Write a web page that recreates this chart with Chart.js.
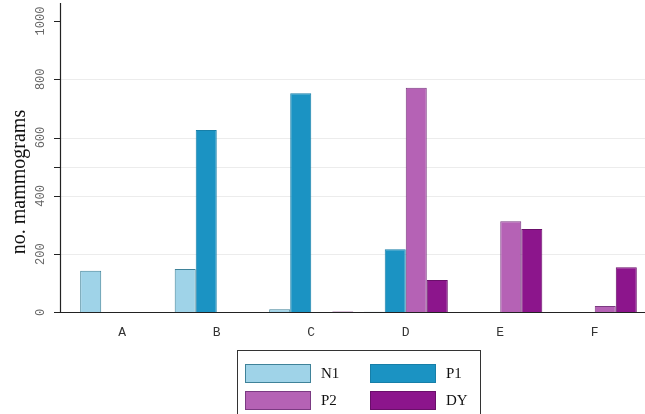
<!DOCTYPE html>
<html>
<head>
<meta charset="utf-8">
<script src="https://cdn.jsdelivr.net/npm/chart.js@4"></script>
<style>
  body { margin: 0; background: #fff; }
  canvas { display: block; }
</style>
</head>
<body>
<canvas id="chart" width="645" height="414"></canvas>
<script>
// categories and series
var categories = ['A', 'B', 'C', 'D', 'E', 'F'];
var seriesNames = ['N1', 'P1', 'P2', 'DY'];
var n1Values = [143, 149, 11, 2, 0, 0];
var p1Values = [0, 626, 752, 217, 0, 0];
var p2Values = [0, 0, 0, 771, 313, 22];
var dyValues = [0, 0, 3, 111, 286, 155];
var yTickLabels = [0, 200, 400, 600, 800, 1000];
var yTickMarks = [0, 200, 400, 500, 600, 800, 1000];
var yGridLines = [200, 400, 500, 600, 800];
var yTitle = 'no. mammograms';

var fills = ['#9fd3e8', '#1b93c3', '#b562b5', '#8c158c'];
var borders = ['#3f8299', '#177fa8', '#7b3a82', '#6a0f6a'];

// y axis, grid and x baseline drawn by hand (axis sits left of the category area)
var axisPlugin = {
  id: 'axisPlugin',
  beforeDatasetsDraw: function(chart) {
    var ctx = chart.ctx;
    var y = chart.scales.y;
    ctx.save();
    ctx.strokeStyle = '#ececec';
    ctx.lineWidth = 1;
    yGridLines.forEach(function(v) {
      var py = Math.round(y.getPixelForValue(v)) + 0.5;
      ctx.beginPath();
      ctx.moveTo(61, py);
      ctx.lineTo(645, py);
      ctx.stroke();
    });
    ctx.restore();
  },
  afterDatasetsDraw: function(chart) {
    var ctx = chart.ctx;
    var y = chart.scales.y;
    var base = Math.round(y.getPixelForValue(0)) + 0.5;
    ctx.save();
    ctx.strokeStyle = '#222';
    ctx.lineWidth = 1.2;
    // y axis line
    ctx.beginPath();
    ctx.moveTo(60.5, 3);
    ctx.lineTo(60.5, base);
    ctx.stroke();
    // x baseline
    ctx.beginPath();
    ctx.moveTo(60, base);
    ctx.lineTo(645, base);
    ctx.stroke();
    // tick marks
    ctx.lineWidth = 1;
    yTickMarks.forEach(function(v) {
      var py = Math.round(y.getPixelForValue(v)) + 0.5;
      ctx.beginPath();
      ctx.moveTo(54, py);
      ctx.lineTo(60, py);
      ctx.stroke();
    });
    // tick labels, rotated
    ctx.fillStyle = '#666';
    ctx.font = '12px "Liberation Mono", monospace';
    ctx.textAlign = 'center';
    ctx.textBaseline = 'middle';
    yTickLabels.forEach(function(v) {
      var py = y.getPixelForValue(v);
      ctx.save();
      ctx.translate(41, py);
      ctx.rotate(-Math.PI / 2);
      ctx.fillText(String(v), 0, 0);
      ctx.restore();
    });
    // axis title
    ctx.fillStyle = '#111';
    ctx.font = '20px "Liberation Serif", serif';
    ctx.save();
    ctx.translate(20, 182);
    ctx.rotate(-Math.PI / 2);
    ctx.fillText(yTitle, 0, 0);
    ctx.restore();
    ctx.restore();
  }
};

// boxed 2x2 legend under the plot
var legendPlugin = {
  id: 'legendPlugin',
  afterDraw: function(chart) {
    var ctx = chart.ctx;
    ctx.save();
    ctx.strokeStyle = '#333';
    ctx.lineWidth = 1;
    ctx.strokeRect(237.5, 350.5, 243, 70);
    var spots = [[245, 364], [370, 364], [245, 391], [370, 391]];
    ctx.font = '15px "Liberation Serif", serif';
    ctx.textBaseline = 'middle';
    ctx.textAlign = 'left';
    chart.data.datasets.forEach(function(ds, i) {
      var s = spots[i];
      ctx.fillStyle = ds.backgroundColor;
      ctx.fillRect(s[0], s[1], 66, 19);
      ctx.strokeStyle = ds.borderColor;
      ctx.strokeRect(s[0] + 0.5, s[1] + 0.5, 65, 18);
      ctx.fillStyle = '#111';
      ctx.fillText(ds.label, s[0] + 76, s[1] + 10);
    });
    ctx.restore();
  }
};

var ctx = document.getElementById('chart').getContext('2d');
var chart = new Chart(ctx, {
  type: 'bar',
  data: {
    labels: categories,
    datasets: [n1Values, p1Values, p2Values, dyValues].map(function(vals, i) {
      return {
        label: seriesNames[i],
        data: vals,
        backgroundColor: fills[i],
        borderColor: borders[i],
        borderWidth: 1,
        categoryPercentage: 0.89,
        barPercentage: 1.0
      };
    })
  },
  options: {
    responsive: false,
    animation: false,
    layout: { padding: { left: 75, right: 3, top: 21, bottom: 62 } },
    plugins: {
      legend: { display: false },
      tooltip: { enabled: false }
    },
    scales: {
      x: {
        grid: { display: false, drawTicks: false },
        border: { display: false },
        ticks: {
          padding: 12,
          color: '#333',
          font: { family: '"Liberation Mono", monospace', size: 13 }
        }
      },
      y: {
        display: false,
        min: 0,
        max: 1000
      }
    }
  },
  plugins: [axisPlugin, legendPlugin]
});
</script>
</body>
</html>
